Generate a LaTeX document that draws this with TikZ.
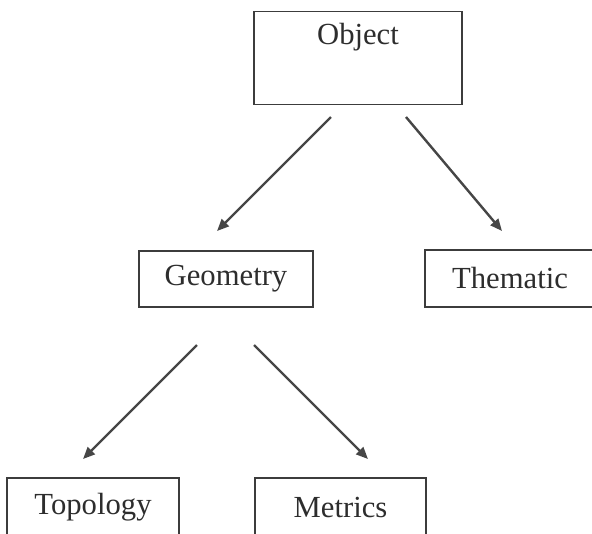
\documentclass[tikz,border=0pt]{standalone}
\usepackage{fontspec}
\setmainfont{Liberation Serif}
\usepackage{tikz}
\usetikzlibrary{positioning,arrows.meta}
\definecolor{boxrule}{RGB}{60,60,60}
\definecolor{arrowgray}{RGB}{70,70,70}
\definecolor{labelgray}{RGB}{45,45,45}
\tikzset{
  box/.style={rectangle,draw=boxrule,line width=1.1pt,inner sep=0pt,text=labelgray,font=\fontsize{23}{26}\selectfont},
  topbox/.style={box,minimum width=156pt,inner ysep=9pt,text height=15.5pt,text depth=36pt},
  edge/.style={-{Triangle[length=9pt,width=7.5pt]},line width=1.8pt,draw=arrowgray}
}
\begin{document}
\begin{tikzpicture}[x=0.75pt,y=-0.75pt]
  \useasboundingbox (0,0) rectangle (592,533);

  \node[topbox,anchor=north] (obj) at (358,11) {Object};
  \node[box,minimum width=130.5pt,minimum height=42pt] (geo) at (226,279) {Geometry};
  \node[box,minimum width=127.5pt,minimum height=42.5pt] (them) at (510,278.5) {Thematic};
  \node[box,minimum width=129pt,minimum height=43.5pt] (topo) at (93,507) {Topology};
  \node[box,minimum width=128pt,minimum height=43.5pt] (met) at (340.5,507) {Metrics};

  % free arrow ends, the arrows stop short of the boxes
  \coordinate (o1) at (331,117);
  \coordinate (o2) at (406,117);
  \coordinate (g1) at (197,345);
  \coordinate (g2) at (254,345);
  \coordinate (geotip) at (217,231);
  \coordinate (themtip) at (502,231);
  \coordinate (topotip) at (83,459);
  \coordinate (mettip) at (368,459);

  \draw[edge] (o1) -- (geotip);
  \draw[edge] (o2) -- (themtip);
  \draw[edge] (g1) -- (topotip);
  \draw[edge] (g2) -- (mettip);
\end{tikzpicture}
\end{document}
